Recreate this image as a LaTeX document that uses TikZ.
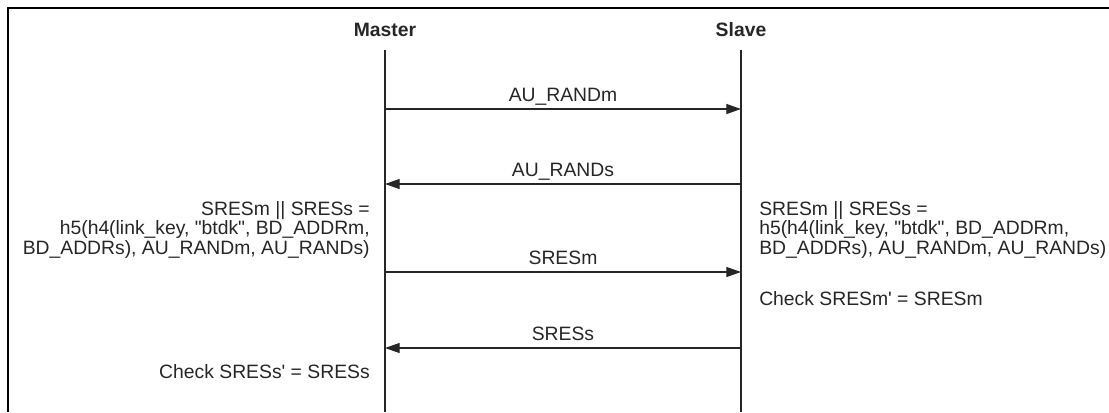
\documentclass[tikz,border=0pt]{standalone}
\usepackage{fontspec}
\setmainfont{Liberation Sans}[Ligatures=TeXOff]
\usetikzlibrary{arrows.meta}
\begin{document}
\begin{tikzpicture}[x=0.75pt,y=-0.75pt,
  txt/.style={inner sep=0pt,font=\fontsize{14.5}{14.7}\selectfont,text=black!85},
  head/.style={txt,font=\fontsize{14.5}{14.7}\selectfont\bfseries},
  life/.style={line width=0.9pt,black!85},
  msg/.style={line width=0.9pt,black!85,-{Triangle[length=11pt,width=7.5pt]}},
  frame/.style={line width=1.6pt,black}]
\useasboundingbox (0,0) rectangle (1109,412);
\draw[frame] (8,412) -- (8,8) -- (1109,8);
\node[head,anchor=base] (master) at (385,36) {Master};
\node[head,anchor=base] (slave) at (741,36) {Slave};
\coordinate (mtop) at (385,50);
\coordinate (mbot) at (385,412);
\coordinate (stop) at (741,50);
\coordinate (sbot) at (741,412);
\draw[life] (mtop) -- (mbot);
\draw[life] (stop) -- (sbot);
% messages
\coordinate (m1) at (385,109); \coordinate (s1) at (741,109);
\coordinate (m2) at (385,184); \coordinate (s2) at (741,184);
\coordinate (m3) at (385,272); \coordinate (s3) at (741,272);
\coordinate (m4) at (385,348); \coordinate (s4) at (741,348);
\draw[msg] (m1) -- (s1);
\draw[msg] (s2) -- (m2);
\draw[msg] (m3) -- (s3);
\draw[msg] (s4) -- (m4);
\node[txt,anchor=base] (l1) at (563,101) {AU\_RANDm};
\node[txt,anchor=base] (l2) at (563,176) {AU\_RANDs};
\node[txt,anchor=base] (l3) at (563,264) {SRESm};
\node[txt,anchor=base] (l4) at (563,340) {SRESs};
% computations
\node[txt,anchor=north east,align=right] (lc) at (370,201) {SRESm || SRESs =\\h5(h4(link\_key, "btdk", BD\_ADDRm,\\BD\_ADDRs), AU\_RANDm, AU\_RANDs)};
\node[txt,anchor=north west,align=left] (rc) at (759,201) {SRESm || SRESs =\\h5(h4(link\_key, "btdk", BD\_ADDRm,\\BD\_ADDRs), AU\_RANDm, AU\_RANDs)};
\node[txt,anchor=base west] (rchk) at (759,305) {Check SRESm' = SRESm};
\node[txt,anchor=base east] (lchk) at (370,378) {Check SRESs' = SRESs};
\end{tikzpicture}
\end{document}
